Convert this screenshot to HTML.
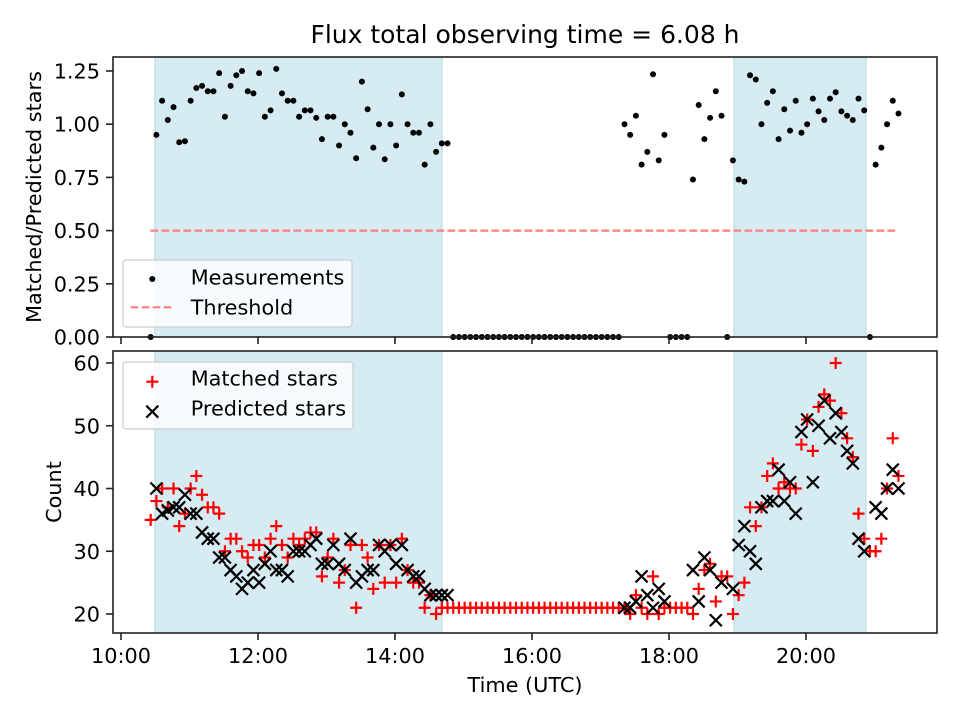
<!DOCTYPE html>
<html><head><meta charset="utf-8"><style>
html,body{margin:0;padding:0;background:#fff;}
svg{display:block;font-family:"DejaVu Sans","Liberation Sans",sans-serif;}
</style></head><body>
<svg id="chart" width="960" height="720" viewBox="0 0 960 720">
<rect width="960" height="720" fill="#fff"/>
<text x="525" y="43" font-size="25" text-anchor="middle">Flux total observing time = 6.08 h</text>
<g id="topPanel"></g>
<g id="botPanel"></g>
<text transform="translate(41,197) rotate(-90)" font-size="20.8" text-anchor="middle">Matched/Predicted stars</text>
<text transform="translate(61,492) rotate(-90)" font-size="20.8" text-anchor="middle">Count</text>
<text x="525" y="692" font-size="20.8" text-anchor="middle">Time (UTC)</text>
</svg>
<script>
// data
const startHour = 10 + 26/60;
const cadenceMin = 5;
const ratio = [0,0.95,1.11,1.02,1.08,0.915,0.92,1.11,1.17,1.18,1.155,1.155,1.24,1.035,1.18,1.23,1.25,1.155,1.145,1.24,1.035,1.065,1.26,1.145,1.11,1.11,1.035,1.065,1.065,1.03,0.93,1.035,1.035,0.9,1.0,0.96,0.84,1.2,1.07,0.89,1.0,0.835,1.0,0.9,1.14,1.0,0.96,0.96,0.81,1.0,0.87,0.91,0.91,
0,0,0,0,0,0,0,0,0,0,0,0,0,0,0,0,0,0,0,0,0,0,0,0,0,0,0,0,0,0,
1.0,0.95,1.04,0.81,0.87,1.235,0.83,0.95,0,0,0,0,0.74,1.09,0.93,1.03,1.155,1.04,0,0.83,0.74,0.73,1.23,1.21,1.0,1.1,1.155,0.93,1.07,0.97,1.11,0.96,1.0,1.12,1.06,1.02,1.12,1.15,1.06,1.04,1.02,1.12,1.065,0,0.81,0.89,1.0,1.11,1.05];
const matched = [35,38,40,37,40,34,36,40,42,39,37,37,36,30,32,32,30,29,31,31,29,32,34,31,29,32,31,32,33,33,26,29,32,25,27,31,21,31,29,24,31,25,31,25,32,27,25,25,21,23,20,21,21,
21,21,21,21,21,21,21,21,21,21,21,21,21,21,21,21,21,21,21,21,21,21,21,21,21,21,21,21,21,21,
21,20,23,21,20,26,20,21,21,21,21,21,20,24,27,28,22,26,26,20,23,25,37,34,37,42,44,40,41,40,40,47,51,46,53,55,54,60,52,48,45,36,32,30,30,32,40,48,42];
const predicted = [null,40,36,36.5,37,37,39,36,36,33,32,32,29,29,27,26,24,25,27,25,28,30,27,27,26,30,30,30,31,32,28,28,31,28,27,32,25,26,27,27,31,30,31,28,31,27,26,26,24,23,23,23,23,
null,null,null,null,null,null,null,null,null,null,null,null,null,null,null,null,null,null,null,null,null,null,null,null,null,null,null,null,null,null,
21,21,22,26,23,21,24,22,null,null,null,null,27,22,29,27,19,25,null,24,31,34,30,28,37,38,38,43,38,41,36,49,51,41,50,54,48,52,49,46,44,32,30,null,37,36,40,43,40];
const spanStart = [10.496, 18.949];
const spanEnd = [14.686, 20.876];
const thresholdValue = 0.5;
const thresholdRange = [10.43, 21.35];
const xTickHours = [10,12,14,16,18,20];
const xTickLabels = ["10:00","12:00","14:00","16:00","18:00","20:00"];
const ratioTicks = [0,0.25,0.5,0.75,1.0,1.25];
const ratioTickLabels = ["0.00","0.25","0.50","0.75","1.00","1.25"];
const countTicks = [20,30,40,50,60];

const NS = "http://www.w3.org/2000/svg";
const L = 113, R = 937;
const TT = 57, TB = 337, BT = 351, BB = 633;
const FS = 20.8;
const xs = h => 121 + (h - 10) * 68.5;
const yr = v => 337 - v * 212.8;
const yc = v => 614 - (v - 20) * 6.275;
const timeOf = i => startHour + i * cadenceMin / 60;

function mk(parent, tag, attrs) {
  const e = document.createElementNS(NS, tag);
  for (const k in attrs) e.setAttribute(k, attrs[k]);
  parent.appendChild(e);
  return e;
}
const topG = document.getElementById('topPanel');
const botG = document.getElementById('botPanel');

function spans(g, y0, y1) {
  for (let k = 0; k < spanStart.length; k++) {
    const r = mk(g, 'rect', {x: xs(spanStart[k]), y: y0, width: xs(spanEnd[k]) - xs(spanStart[k]), height: y1 - y0, fill: '#add8e6', 'fill-opacity': 0.5, stroke: '#add8e6', 'stroke-width': 1});
    
    
  }
}
spans(topG, TT, TB);
spans(botG, BT, BB);

const th = mk(topG, 'line', {x1: xs(thresholdRange[0]), x2: xs(thresholdRange[1]), y1: yr(thresholdValue), y2: yr(thresholdValue), stroke: '#ff7f7f', 'stroke-width': 2.2, 'stroke-dasharray': '7.7,3.3'});



for (let i = 0; i < ratio.length; i++) {
  const c = mk(topG, 'circle', {cx: xs(timeOf(i)), cy: yr(ratio[i]), r: 3, fill: '#000'});
  
  
}
for (let i = 0; i < matched.length; i++) {
  const x = xs(timeOf(i)), y = yc(matched[i]);
  const p = mk(botG, 'path', {d: `M${x-6} ${y}H${x+6}M${x} ${y-6}V${y+6}`, stroke: '#ff0000', 'stroke-width': 2.2, fill: 'none'});
  
  
}
for (let i = 0; i < predicted.length; i++) {
  if (predicted[i] === null) continue;
  const x = xs(timeOf(i)), y = yc(predicted[i]);
  const p = mk(botG, 'path', {d: `M${x-6} ${y-6}L${x+6} ${y+6}M${x-6} ${y+6}L${x+6} ${y-6}`, stroke: '#000', 'stroke-width': 2.2, fill: 'none'});
  
  
}

function frame(g, y0, y1, name) {
  const f = mk(g, 'rect', {x: L, y: y0, width: R - L, height: y1 - y0, fill: 'none', stroke: '#222', 'stroke-width': 1.6});
  
  
}
frame(topG, TT, TB, 'ratio-axes-frame');
frame(botG, BT, BB, 'count-axes-frame');

for (let k = 0; k < xTickHours.length; k++) {
  const x = xs(xTickHours[k]);
  const t1 = mk(topG, 'line', {x1: x, x2: x, y1: TB, y2: TB + 7, stroke: '#222', 'stroke-width': 1.6});
  
  
  const t2 = mk(botG, 'line', {x1: x, x2: x, y1: BB, y2: BB + 7, stroke: '#222', 'stroke-width': 1.6});
  
  
  const tl = mk(botG, 'text', {x: x, y: 663, 'font-size': FS, 'text-anchor': 'middle'});
  tl.textContent = xTickLabels[k];
  
  
}
for (let k = 0; k < ratioTicks.length; k++) {
  const y = yr(ratioTicks[k]);
  const t = mk(topG, 'line', {x1: L - 7, x2: L, y1: y, y2: y, stroke: '#222', 'stroke-width': 1.6});
  
  
  const tl = mk(topG, 'text', {x: 100, y: y + 7.5, 'font-size': FS, 'text-anchor': 'end'});
  tl.textContent = ratioTickLabels[k];
  
  
}
for (let k = 0; k < countTicks.length; k++) {
  const y = yc(countTicks[k]);
  const t = mk(botG, 'line', {x1: L - 7, x2: L, y1: y, y2: y, stroke: '#222', 'stroke-width': 1.6});
  
  
  const tl = mk(botG, 'text', {x: 100, y: y + 7.5, 'font-size': FS, 'text-anchor': 'end'});
  tl.textContent = countTicks[k];
  
  
}

const lg1 = mk(topG, 'g', {});


mk(lg1, 'rect', {x: 123, y: 260, width: 229, height: 67, rx: 3, fill: '#fff', 'fill-opacity': 0.8, stroke: '#ccc', 'stroke-width': 1.2});
mk(lg1, 'circle', {cx: 152.3, cy: 279, r: 3, fill: '#000'});
let t = mk(lg1, 'text', {x: 190.7, y: 284.3, 'font-size': FS}); t.textContent = 'Measurements';
mk(lg1, 'line', {x1: 130.7, x2: 173.3, y1: 307.3, y2: 307.3, stroke: '#ff7f7f', 'stroke-width': 2.2, 'stroke-dasharray': '7.7,3.3'});
t = mk(lg1, 'text', {x: 190.7, y: 314.3, 'font-size': FS}); t.textContent = 'Threshold';

const lg2 = mk(botG, 'g', {});


mk(lg2, 'rect', {x: 123, y: 362, width: 230, height: 67, rx: 3, fill: '#fff', 'fill-opacity': 0.8, stroke: '#ccc', 'stroke-width': 1.2});
mk(lg2, 'path', {d: 'M146.3 381.7H158.3M152.3 375.7V387.7', stroke: '#f00', 'stroke-width': 2.2});
t = mk(lg2, 'text', {x: 190.7, y: 385.7, 'font-size': FS}); t.textContent = 'Matched stars';
mk(lg2, 'path', {d: 'M146.3 405.7L158.3 417.7M146.3 417.7L158.3 405.7', stroke: '#000', 'stroke-width': 2.2});
t = mk(lg2, 'text', {x: 190.7, y: 415.7, 'font-size': FS}); t.textContent = 'Predicted stars';
</script>
</body></html>
